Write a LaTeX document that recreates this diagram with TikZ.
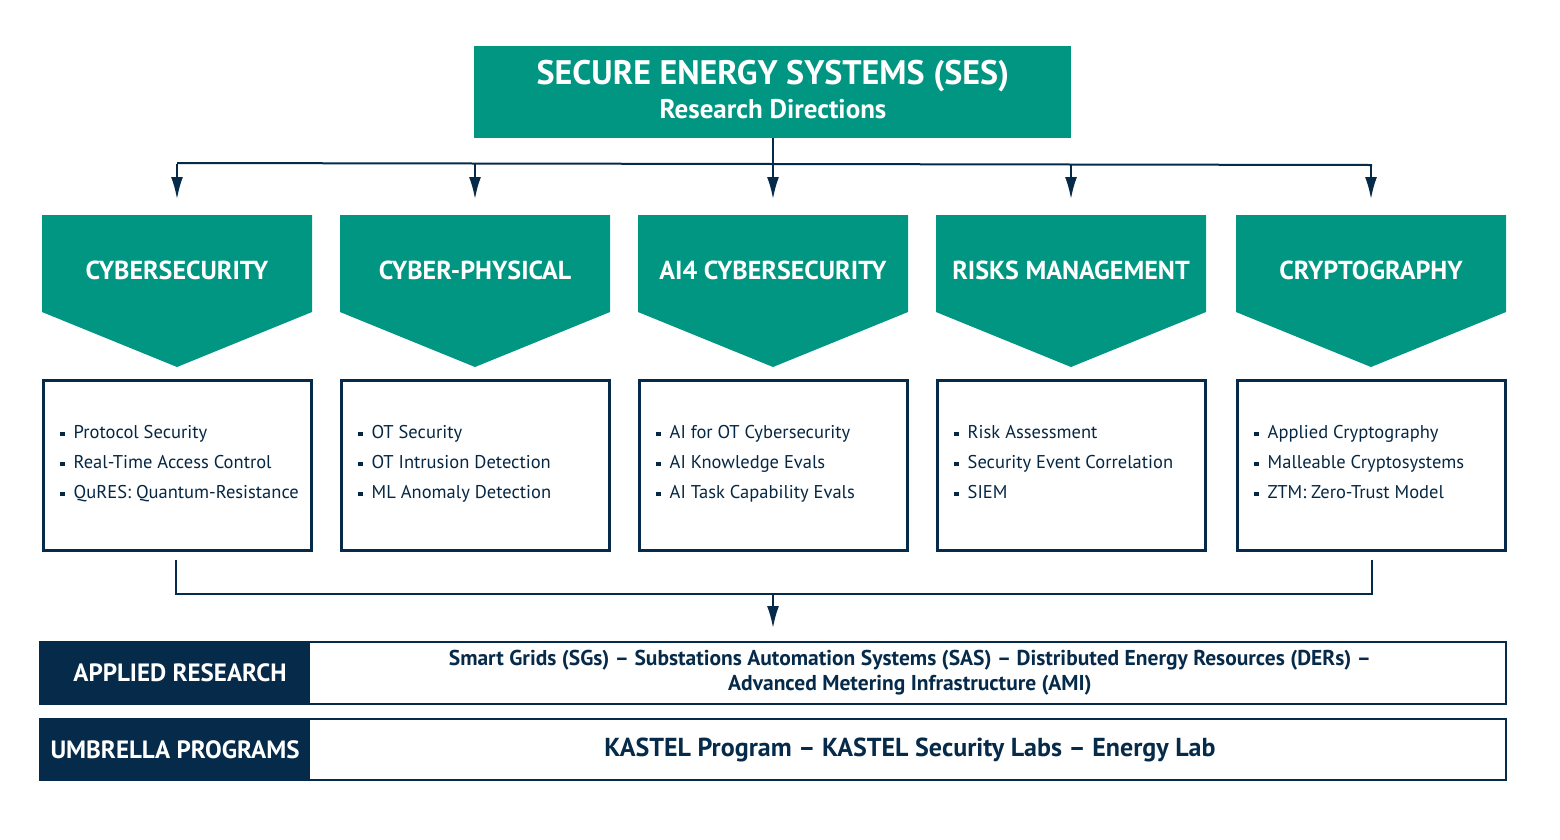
\documentclass[tikz,border=0pt]{standalone}
\usepackage{fontspec}
\setmainfont{PT Sans}
\usetikzlibrary{arrows.meta}
\definecolor{teal}{HTML}{009682}
\definecolor{navy}{HTML}{062B4A}
\newcommand{\bul}{\rule[2pt]{4.5pt}{4.5pt}\hspace{9pt}}
\begin{document}
\begin{tikzpicture}[x=1pt,y=-1pt,
  conn/.style={navy,line width=2pt},
  arr/.style={conn,-{Latex[length=22pt,width=12pt]}},
  chevtxt/.style={text=white,font=\bfseries\fontsize{26}{28}\selectfont},
  item/.style={anchor=west,inner sep=0pt,text height=14pt,text depth=4pt,font=\fontsize{18.5}{22}\selectfont,text=navy!90!black},
  bar/.style={draw=navy,line width=2.5pt},
  bartxt/.style={font=\bfseries\fontsize{25}{26}\selectfont},
]
\useasboundingbox (0,0) rectangle (1560,839);
\fill[teal] (474,46) rectangle (1071,138);
\node[text=white,font=\bfseries\fontsize{34}{34}\selectfont] (title) at (773,76) {SECURE ENERGY SYSTEMS (SES)};
\node[text=white,font=\bfseries\fontsize{27}{28}\selectfont] (sub) at (773,109) {Research Directions};
\coordinate (tb) at (773,138);
\coordinate (bus) at (773,165);
\draw[conn] (tb) -- (bus);
\draw[conn] (177,163) -- (1372,165);
\foreach \cx/\n/\t in {177/c1/CYBERSECURITY,475/c2/CYBER-PHYSICAL,773/c3/AI4 CYBERSECURITY,1071/c4/RISKS MANAGEMENT,1371/c5/CRYPTOGRAPHY}{
  \fill[teal] (\cx-135,215) -- (\cx+135,215) -- (\cx+135,312) -- (\cx,367) -- (\cx-135,312) -- cycle;
  \node[chevtxt] (\n) at (\cx,270) {\t};
  \coordinate (\n top) at (\cx,164);
  \draw[arr] (\n top) -- (\cx,199);
  \draw[navy,line width=3pt] (\cx-134,380) rectangle (\cx+134,550);
}
\foreach \cx/\n/\a/\b/\c in {177/b1/Protocol Security/Real-Time Access Control/QuRES: Quantum-Resistance,
  475/b2/OT Security/OT Intrusion Detection/ML Anomaly Detection,
  773/b3/AI for OT Cybersecurity/AI Knowledge Evals/AI Task Capability Evals,
  1071/b4/Risk Assessment/Security Event Correlation/SIEM,
  1371/b5/Applied Cryptography/Malleable Cryptosystems/ZTM: Zero-Trust Model}{
  \node[item] (\n a) at (\cx-117,433) {\bul\a};
  \node[item] (\n b) at (\cx-117,463) {\bul\b};
  \node[item] (\n c) at (\cx-117,493) {\bul\c};
}
\coordinate (l) at (176,560); \coordinate (r) at (1372,560);
\coordinate (m) at (773,594);
\draw[navy,line width=1.5pt] (l) -- (176,594) -- (1372,594) -- (r);
\draw[arr] (m) -- (773,628);
% bars
\fill[navy] (40,642) rectangle (310,704);
\draw[bar] (40,642) rectangle (1506,704);
\node[bartxt,text=white] (ar) at (180,673) {APPLIED RESEARCH};
\node[align=center,font=\bfseries\fontsize{21.5}{25}\selectfont,text=navy] (art) at (910,673) {Smart Grids (SGs) – Substations Automation Systems (SAS) – Distributed Energy Resources (DERs) –\\Advanced Metering Infrastructure (AMI)};
\fill[navy] (40,719) rectangle (310,780);
\draw[bar] (40,719) rectangle (1506,780);
\node[bartxt,text=white] (up) at (175,750) {UMBRELLA PROGRAMS};
\node[font=\bfseries\fontsize{26}{28}\selectfont,text=navy] (upt) at (910,750) {KASTEL Program – KASTEL Security Labs – Energy Lab};
\end{tikzpicture}
\end{document}
